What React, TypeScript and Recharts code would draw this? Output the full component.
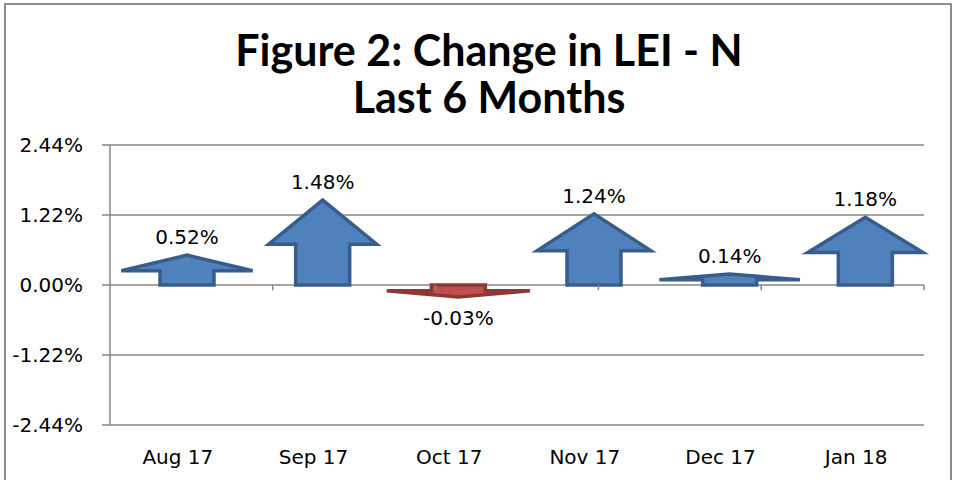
import React from "react";
import { BarChart, Bar, XAxis, YAxis, CartesianGrid, ReferenceLine, LabelList } from "recharts";

const months = ["Aug 17", "Sep 17", "Oct 17", "Nov 17", "Dec 17", "Jan 18"];
const changes = [0.52, 1.48, -0.03, 1.24, 0.14, 1.18];
const yTicks = [-2.44, -1.22, 0, 1.22, 2.44];
const boundaries = [1, 2, 3, 4, 5, 6];

const data = months.map((month, i) => ({ month, change: changes[i] }));

const GRID = "#868686";
const SHIFT = 9;

// arrow geometry shared by shape and label
function arrowGeom(props: any) {
  const { x, y, width, height, value } = props;
  const top = Math.min(y, y + height);
  const bottom = Math.max(y, y + height);
  const h = bottom - top;
  const up = value >= 0;
  const drawH = Math.max(h, up ? 11 : 12);
  const base = up ? bottom : top;
  const tip = up ? base - drawH : base + drawH;
  const headH = drawH * 0.52;
  const headBase = up ? tip + headH : tip - headH;
  const hw = 108 + 36 * (1 - Math.min(h, 85) / 85);
  const cx = x + width / 2 + SHIFT;
  return { cx, base, tip, headBase, hw, sw: width, up };
}

function ArrowShape(props: any) {
  const { cx, base, tip, headBase, hw, sw, up } = arrowGeom(props);
  const d = [
    `M${cx - sw / 2},${base}`,
    `L${cx - sw / 2},${headBase}`,
    `L${cx - hw / 2},${headBase}`,
    `L${cx},${tip}`,
    `L${cx + hw / 2},${headBase}`,
    `L${cx + sw / 2},${headBase}`,
    `L${cx + sw / 2},${base}`,
    "Z",
  ].join(" ");
  return (
    <path
      d={d}
      fill={up ? "#4F81BD" : "#C0504D"}
      stroke={up ? "#385D8A" : "#8C3836"}
      strokeWidth={3.5}
      strokeLinejoin="miter"
    />
  );
}

function ArrowLabel(props: any) {
  const { cx, tip, up } = arrowGeom(props);
  const mid = up ? tip - 18 : tip + 21;
  return (
    <text x={cx} y={mid + 7} textAnchor="middle" fontSize={20} fontFamily="DejaVu Sans" fill="#000">
      {`${Number(props.value).toFixed(2)}%`}
    </text>
  );
}

function MonthTick({ x, y, payload }: any) {
  return (
    <text x={x} y={y + 37} textAnchor="middle" fontSize={20} fontFamily="DejaVu Sans" fill="#000">
      {payload.value}
    </text>
  );
}

export default function App() {
  return (
    <div style={{ position: "absolute", left: 0, top: 0, width: 954, height: 480, overflow: "hidden", background: "#fff" }}>
      <div
        style={{
          position: "absolute",
          left: 4,
          top: 3,
          width: 944,
          height: 500,
          border: "2px solid #8c8c8c",
        }}
      />
      <div
        style={{
          position: "absolute",
          left: 12,
          top: 26,
          width: 954,
          textAlign: "center",
          fontFamily: "Lato",
          fontWeight: 700,
          fontSize: 43,
          lineHeight: "47px",
          color: "#000",
        }}
      >
        Figure 2: Change in LEI - N
        <br />
        Last 6 Months
      </div>
      <div style={{ position: "absolute", left: 0, top: 0 }}>
        <BarChart width={954} height={480} data={data} margin={{ top: 145, right: 30, left: 0, bottom: 0 }}>
          <CartesianGrid vertical={false} stroke={GRID} strokeWidth={1.5} />
          <XAxis
            dataKey="month"
            height={55}
            axisLine={false}
            tickLine={false}
            tickSize={0}
            tick={<MonthTick />}
            interval={0}
          />
          <XAxis xAxisId="b" type="number" domain={[0, 6]} hide />
          <YAxis
            width={110}
            domain={[-2.44, 2.44]}
            ticks={yTicks}
            tickFormatter={(v: number) => `${v.toFixed(2)}%`}
            axisLine={{ stroke: GRID, strokeWidth: 1.5 }}
            tickLine={{ stroke: GRID, strokeWidth: 1.5 }}
            tickSize={8}
            tickMargin={19}
            tick={{ fontSize: 20, fontFamily: "DejaVu Sans", fill: "#000" }}
          />
          {boundaries.map((b) => (
            <ReferenceLine
              key={b}
              xAxisId="b"
              segment={[
                { x: b, y: 0 },
                { x: b, y: -0.09 },
              ]}
              stroke={GRID}
              strokeWidth={1.5}
            />
          ))}
          <Bar dataKey="change" barSize={54} shape={<ArrowShape />} isAnimationActive={false}>
            <LabelList dataKey="change" content={<ArrowLabel />} />
          </Bar>
        </BarChart>
      </div>
    </div>
  );
}
